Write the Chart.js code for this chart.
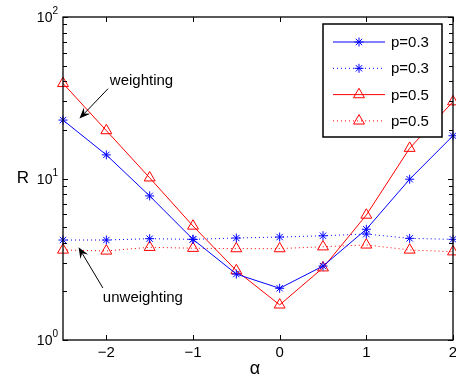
<!DOCTYPE html>
<html>
<head>
<meta charset="utf-8">
<script src="https://cdn.jsdelivr.net/npm/chart.js@4/dist/chart.umd.min.js"></script>
<style>
  html, body { margin: 0; padding: 0; background: #fff; }
  #wrap { width: 456px; height: 376px; position: relative; }
</style>
</head>
<body>
<div id="wrap"><canvas id="chart"></canvas></div>
<script>
// alpha values on the x axis
const alphas = [-2.5, -2, -1.5, -1, -0.5, 0, 0.5, 1, 1.5, 2];

// R values
const weighted03 = [23.0, 14.0, 7.8, 4.2, 2.56, 2.09, 2.87, 4.85, 9.9, 18.4];
const unweighted03 = [4.16, 4.16, 4.24, 4.2, 4.28, 4.34, 4.42, 4.53, 4.26, 4.2];
const weighted05 = [38.8, 19.8, 10.1, 5.08, 2.69, 1.65, 2.8, 5.94, 15.4, 29.9];
const unweighted05 = [3.61, 3.56, 3.75, 3.7, 3.68, 3.68, 3.78, 3.88, 3.61, 3.52];

const seriesLabels = ["p=0.3", "p=0.3", "p=0.5", "p=0.5"];
const xTicks = [-2, -1, 0, 1, 2];
const yTicks = [1, 10, 100];
const yMinorTicks = [2, 3, 4, 5, 6, 7, 8, 9, 20, 30, 40, 50, 60, 70, 80, 90];

// annotation arrows, in data units: [text, textAlpha, textR, tailAlpha, tailR, tipAlpha, tipR]
const notes = [
  ["weighting", -1.96, 40.5, -1.98, 36, -2.31, 23.5],
  ["unweighting", -2.04, 1.82, -2.04, 2.1, -2.32, 3.75]
];

const FONT = '"Liberation Sans", Arial, Helvetica, sans-serif';

function pts(ys) {
  return alphas.map((a, i) => ({ x: a, y: ys[i] }));
}

const blue = "#0000ff";
const red = "#ff0000";

const datasets = [
  { label: seriesLabels[0], data: pts(weighted03), borderColor: blue, backgroundColor: blue,
    borderWidth: 1, pointStyle: "star", pointRadius: 4.5, pointBorderWidth: 1, borderDash: [] },
  { label: seriesLabels[1], data: pts(unweighted03), borderColor: blue, backgroundColor: blue,
    borderWidth: 1, pointStyle: "star", pointRadius: 4.5, pointBorderWidth: 1, borderDash: [1, 3] },
  { label: seriesLabels[2], data: pts(weighted05), borderColor: red, backgroundColor: "rgba(0,0,0,0)",
    borderWidth: 1, pointStyle: "triangle", pointRadius: 6.3, pointBorderWidth: 1, borderDash: [] },
  { label: seriesLabels[3], data: pts(unweighted05), borderColor: red, backgroundColor: "rgba(0,0,0,0)",
    borderWidth: 1, pointStyle: "triangle", pointRadius: 6.3, pointBorderWidth: 1, borderDash: [1, 3] }
].map(d => Object.assign(d, { fill: false, tension: 0, clip: false, pointBorderColor: d.borderColor,
  pointBackgroundColor: d.backgroundColor }));

function arrow(ctx, x0, y0, x1, y1) {
  const ang = Math.atan2(y1 - y0, x1 - x0);
  const len = 11, half = 4.5, notch = 7;
  ctx.beginPath();
  ctx.moveTo(x0, y0);
  ctx.lineTo(x1 - Math.cos(ang) * notch, y1 - Math.sin(ang) * notch);
  ctx.stroke();
  ctx.save();
  ctx.translate(x1, y1);
  ctx.rotate(ang);
  ctx.beginPath();
  ctx.moveTo(0, 0);
  ctx.lineTo(-len, -half);
  ctx.lineTo(-notch, 0);
  ctx.lineTo(-len, half);
  ctx.closePath();
  ctx.fill();
  ctx.restore();
}

const matlabLook = {
  id: "matlabLook",
  afterDatasetsDraw(chart) {
    const { ctx, chartArea: a, scales: { x, y } } = chart;
    ctx.save();
    ctx.strokeStyle = "#000";
    ctx.lineWidth = 1;
    ctx.setLineDash([]);
    // inward ticks on all four sides
    ctx.beginPath();
    xTicks.forEach(v => {
      const px = Math.round(x.getPixelForValue(v)) + 0.5;
      ctx.moveTo(px, a.bottom); ctx.lineTo(px, a.bottom - 5);
      ctx.moveTo(px, a.top); ctx.lineTo(px, a.top + 5);
    });
    yTicks.concat(yMinorTicks).forEach(v => {
      const py = Math.round(y.getPixelForValue(v)) + 0.5;
      const l = yTicks.includes(v) ? 5 : 4;
      ctx.moveTo(a.left, py); ctx.lineTo(a.left + l, py);
      ctx.moveTo(a.right, py); ctx.lineTo(a.right - l, py);
    });
    ctx.stroke();
    // axes box
    ctx.lineWidth = 1.3;
    ctx.strokeRect(a.left, a.top, a.right - a.left, a.bottom - a.top);

    ctx.fillStyle = "#000";
    // x tick labels
    ctx.font = "15px " + FONT;
    ctx.textAlign = "center";
    ctx.textBaseline = "middle";
    xTicks.forEach(v => {
      ctx.fillText(String(v).replace("-", "\u2212"), x.getPixelForValue(v), a.bottom + 13);
    });

    // y tick labels with exponents
    yTicks.forEach(v => {
      const py = y.getPixelForValue(v);
      const e = String(Math.round(Math.log10(v)));
      ctx.font = "10px " + FONT;
      const ew = ctx.measureText(e).width;
      ctx.textAlign = "right";
      ctx.textBaseline = "alphabetic";
      ctx.fillText(e, a.left - 5, py - 3);
      ctx.font = "14px " + FONT;
      ctx.fillText("10", a.left - 5 - ew, py + 5);
    });

    // axis titles
    ctx.font = "17px " + FONT;
    ctx.textAlign = "center";
    ctx.textBaseline = "middle";
    ctx.fillText("R", 23, (a.top + a.bottom) / 2);
    ctx.font = "18px " + FONT;
    ctx.fillText("\u03b1", (a.left + a.right) / 2 - 3, 369);

    // annotations
    ctx.font = "15px " + FONT;
    ctx.textAlign = "left";
    ctx.lineWidth = 1;
    notes.forEach(n => {
      ctx.fillText(n[0], x.getPixelForValue(n[1]), y.getPixelForValue(n[2]));
      arrow(ctx, x.getPixelForValue(n[3]), y.getPixelForValue(n[4]),
        x.getPixelForValue(n[5]), y.getPixelForValue(n[6]));
    });
    ctx.restore();
  },
  afterDraw(chart) {
    const { ctx } = chart;
    const bx = 323, by = 24, bw = 119, bh = 113;
    ctx.save();
    ctx.fillStyle = "#fff";
    ctx.fillRect(bx, by, bw, bh);
    ctx.strokeStyle = "#000";
    ctx.lineWidth = 1.5;
    ctx.strokeRect(bx, by, bw, bh);
    chart.data.datasets.forEach((d, i) => {
      const ry = by + 18 + i * 26.3;
      ctx.strokeStyle = d.borderColor;
      ctx.lineWidth = 1;
      ctx.setLineDash(d.borderDash);
      ctx.beginPath();
      ctx.moveTo(bx + 10, ry);
      ctx.lineTo(bx + 62, ry);
      ctx.stroke();
      ctx.setLineDash([]);
      ctx.fillStyle = d.backgroundColor;
      Chart.helpers.drawPoint(ctx, { pointStyle: d.pointStyle, radius: d.pointRadius, borderWidth: 1, rotation: 0 },
        bx + 36, ry);
      ctx.fillStyle = "#000";
      ctx.font = "15px " + FONT;
      ctx.textAlign = "left";
      ctx.textBaseline = "middle";
      ctx.fillText(d.label, bx + 68, ry + 1);
    });
    ctx.restore();
  }
};

new Chart(document.getElementById("chart").getContext("2d"), {
  type: "line",
  data: { datasets },
  options: {
    responsive: true,
    maintainAspectRatio: false,
    animation: false,
    layout: { autoPadding: false, padding: { left: 0, right: 3, top: 17, bottom: 0 } },
    plugins: { legend: { display: false }, tooltip: { enabled: false } },
    scales: {
      x: {
        type: "linear",
        min: -2.5,
        max: 2,
        afterBuildTicks: s => { s.ticks = xTicks.map(v => ({ value: v })); },
        afterFit: s => { s.height = 36; },
        grid: { display: false, drawTicks: false },
        border: { display: false },
        ticks: { display: false }
      },
      y: {
        type: "logarithmic",
        min: 1,
        max: 100,
        afterFit: s => { s.width = 63; },
        grid: { display: false, drawTicks: false },
        border: { display: false },
        ticks: { display: false }
      }
    }
  },
  plugins: [matlabLook]
});
</script>
</body>
</html>
